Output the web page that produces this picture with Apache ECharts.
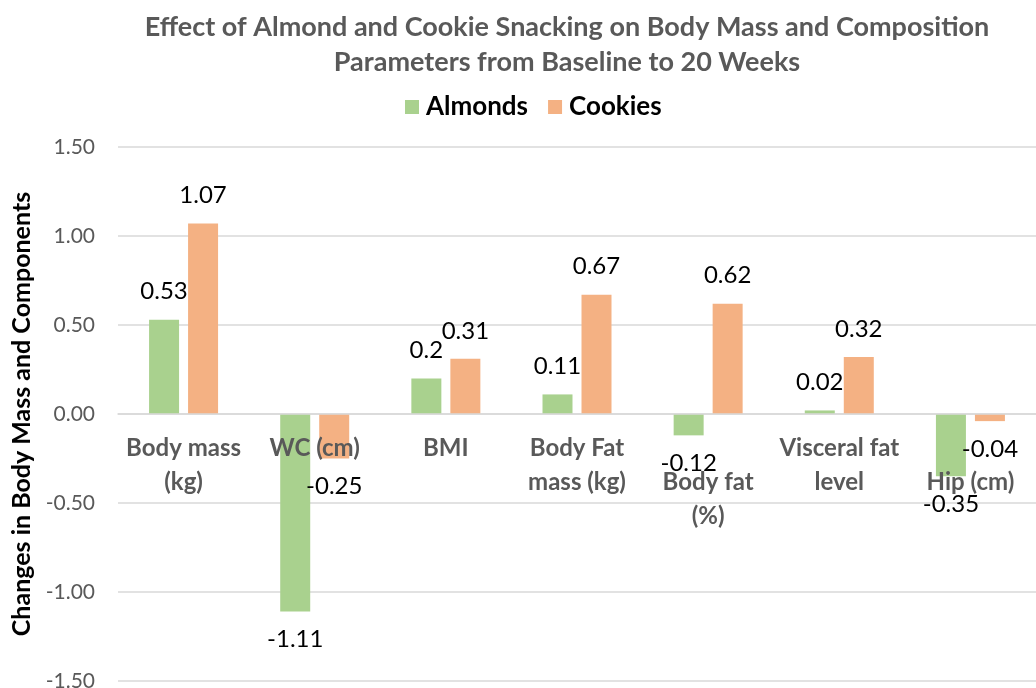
<!DOCTYPE html>
<html>
<head>
<meta charset="utf-8">
<script src="https://cdn.jsdelivr.net/npm/echarts@6/dist/echarts.min.js"></script>
<style>
	html, body { margin: 0; padding: 0; background: #fff; }
	#main { width: 1036px; height: 688px; }
</style>
</head>
<body>
<div id="main"></div>
<script>
// Data
var categories = ['Body mass\n(kg)', 'WC (cm)', 'BMI', 'Body Fat\nmass (kg)', '\nBody fat\n(%)', 'Visceral fat\nlevel', '\nHip (cm)'];
var almonds = [0.53, -1.11, 0.2, 0.11, -0.12, 0.02, -0.35];
var cookies = [1.07, -0.25, 0.31, 0.67, 0.62, 0.32, -0.04];
var yTicks = [-1.5, -1.0, -0.5, 0.0, 0.5, 1.0, 1.5];

var fontFam = 'Lato, "Open Sans", sans-serif';

function withLabels(values) {
	return values.map(function (v) {
		return {
			value: v,
			label: { position: v < 0 ? 'bottom' : 'top' }
		};
	});
}

var myChart = echarts.init(document.getElementById('main'));

var option = {
	backgroundColor: '#fff',
	animation: false,
	title: {
		text: 'Effect of Almond and Cookie Snacking on Body Mass and Composition\nParameters from Baseline to 20 Weeks',
		left: 562,
		top: 5,
		textAlign: 'center',
		textStyle: {
			color: '#595959',
			fontFamily: fontFam,
			fontSize: 27,
			fontWeight: 'bold',
			lineHeight: 35
		}
	},
	legend: {
		top: 89,
		left: 400,
		itemWidth: 14,
		itemHeight: 14,
		itemGap: 20,
		icon: 'rect',
		data: ['Almonds', 'Cookies'],
		textStyle: {
			color: '#000',
			fontFamily: fontFam,
			fontSize: 26,
			fontWeight: 'bold',
			padding: [0, 0, 0, 2]
		}
	},
	grid: {
		left: 118,
		right: 0,
		top: 147,
		bottom: 7,
		containLabel: false,
		outerBoundsMode: 'none'
	},
	xAxis: {
		type: 'category',
		data: categories,
		z: 5,
		// move the axis up to the zero line
		offset: -267,
		axisLine: { show: true, onZero: false, lineStyle: { color: '#d9d9d9', width: 1.5 } },
		axisTick: { show: false },
		axisLabel: {
			color: '#595959',
			fontFamily: fontFam,
			fontSize: 24,
			fontWeight: 'bold',
			lineHeight: 34,
			margin: 17,
			interval: 0
		}
	},
	yAxis: {
		type: 'value',
		min: yTicks[0],
		max: yTicks[yTicks.length - 1],
		interval: 0.5,
		name: 'Changes in Body Mass and Components',
		nameLocation: 'middle',
		nameGap: 84,
		nameTextStyle: {
			color: '#000',
			fontFamily: fontFam,
			fontSize: 25,
			fontWeight: 'bold'
		},
		axisLine: { show: false },
		axisTick: { show: false },
		axisLabel: {
			color: '#595959',
			fontFamily: fontFam,
			fontSize: 21,
			margin: 23,
			formatter: function (v) { return v.toFixed(2); }
		},
		splitLine: {
			lineStyle: { color: '#d9d9d9', width: 1.5 }
		}
	},
	series: [{
		name: 'Almonds',
		type: 'bar',
		barWidth: 30,
		barGap: '30%',
		itemStyle: { color: '#a9d18e' },
		label: {
			show: true,
			color: '#000',
			fontFamily: fontFam,
			fontSize: 24,
			distance: 16,
			formatter: function (p) { return String(p.value); }
		},
		data: withLabels(almonds)
	}, {
		name: 'Cookies',
		type: 'bar',
		barWidth: 30,
		barGap: '30%',
		itemStyle: { color: '#f4b183' },
		label: {
			show: true,
			color: '#000',
			fontFamily: fontFam,
			fontSize: 24,
			distance: 16,
			formatter: function (p) { return String(p.value); }
		},
		data: withLabels(cookies)
	}]
};

myChart.setOption(option);
</script>
</body>
</html>
